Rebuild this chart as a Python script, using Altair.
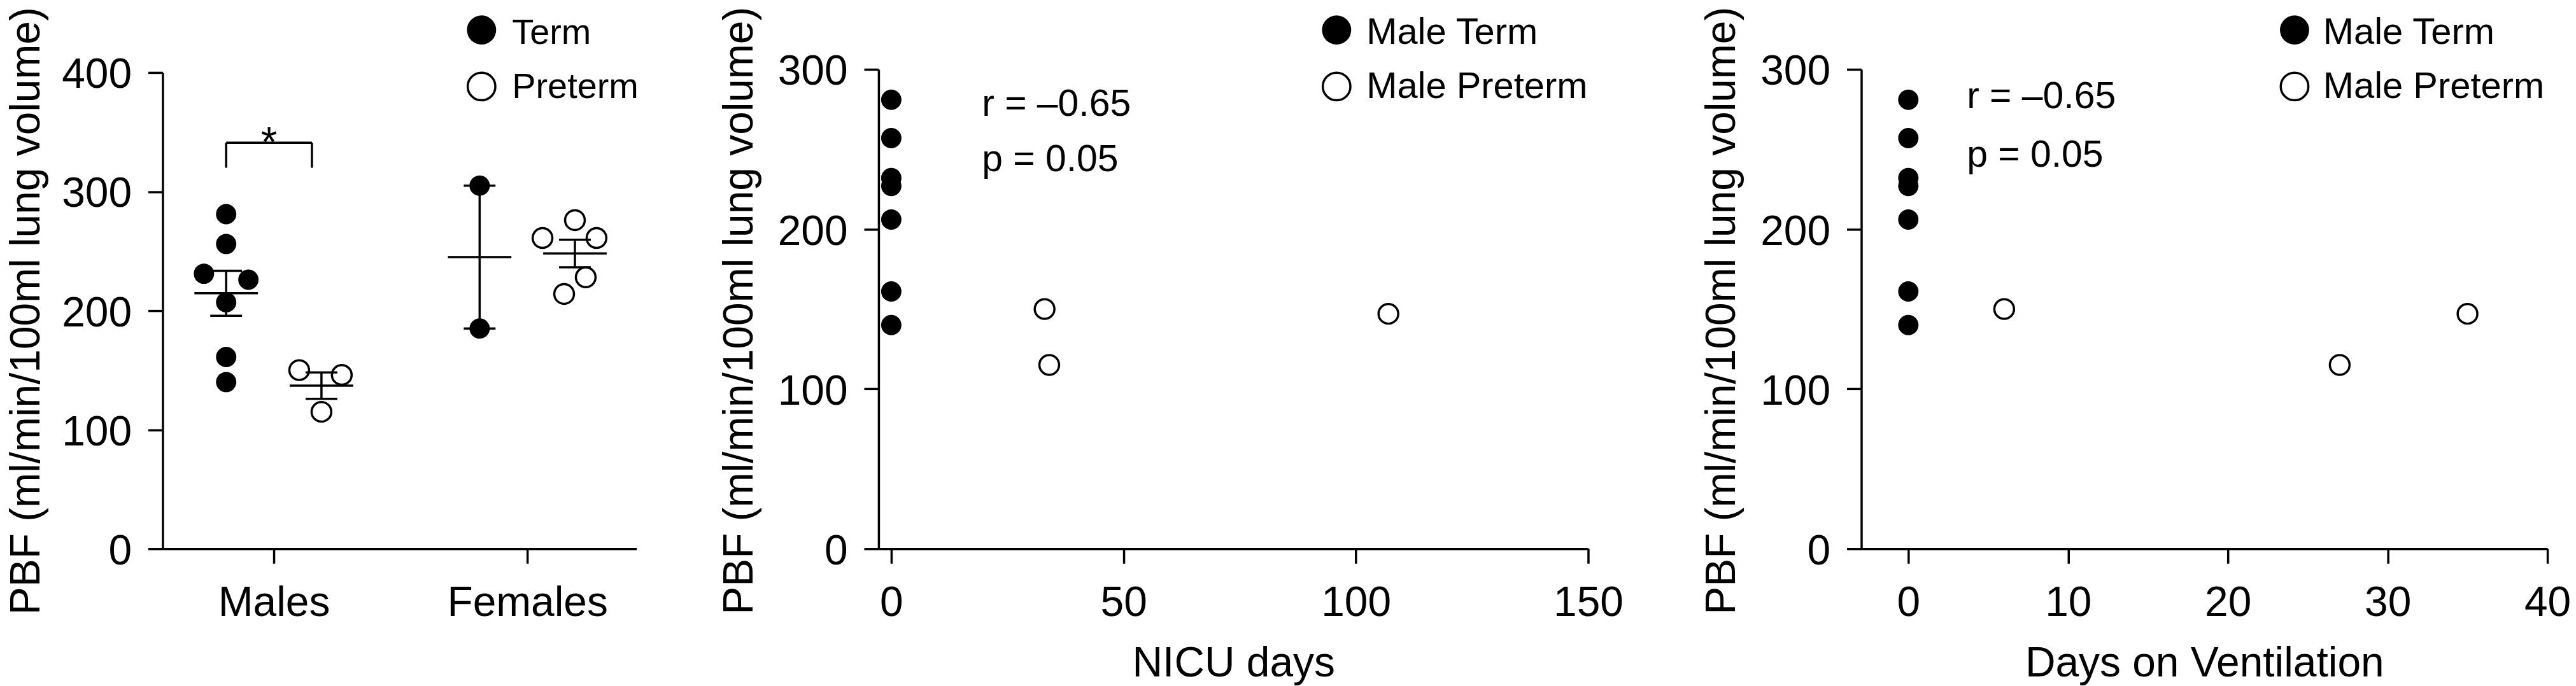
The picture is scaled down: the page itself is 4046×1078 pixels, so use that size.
import altair as alt
import numpy as np
import pandas as pd

FONT = "Liberation Sans"

# ---------------- data ----------------
group_names = ["Males", "Females"]
male_term = [281, 256, 231, 226, 207, 161, 140]
male_preterm = [150, 146, 115]
female_term = [305, 185]
female_preterm = [276, 261, 261, 228, 214]

# beeswarm spread of the dot plot (pixels)
male_term_jitter = [0, 0, -35, 35, 0, 0, 0]
male_preterm_jitter = [-35, 32, 0]
female_term_jitter = [0, 0]
female_preterm_jitter = [0, -51, 34, 17, -17]

# male infants, correlation panels
term_pbf = [281, 257, 232, 227, 206, 161, 140]
term_nicu_days = [0, 0, 0, 0, 0, 0, 0]
term_vent_days = [0, 0, 0, 0, 0, 0, 0]
preterm_pbf = [150, 115, 147]
preterm_nicu_days = [33, 34, 107]
preterm_vent_days = [6, 27, 35]

y_ticks_1 = [0, 100, 200, 300, 400]
y_ticks_23 = [0, 100, 200, 300]
nicu_ticks = [0, 50, 100, 150]
vent_ticks = [0, 10, 20, 30, 40]

corr_lines = ["r = –0.65", "p = 0.05"]
legend_1 = ["Term", "Preterm"]
legend_23 = ["Male Term", "Male Preterm"]
y_title = "PBF (ml/min/100ml lung volume)"
signif = "*"

# ---------------- layout ----------------
P1_LEFT, P2_LEFT, P3_LEFT = 254, 1381, 2928
H = 755
W1 = 746
SP = P2_LEFT - P1_LEFT - W1
W2 = P3_LEFT - P2_LEFT - SP
P2_AXIS = 1117
W3 = 1080

GROUP_PX = 399.0
MALES_PX = 175.0
OFF = 75 / GROUP_PX

LW = 3.5
# Vega symbol size = area of bounding square -> diameter = sqrt(size)
PT_FILLED = 32 ** 2
PT_OPEN = 31 ** 2
LEG_FILLED = 46 ** 2
LEG_OPEN = 43.5 ** 2


def y_axis(values, title_x, title_y):
    return alt.Axis(
        values=values, title=y_title, grid=False,
        domainColor="black", domainWidth=LW, tickColor="black", tickWidth=LW, tickSize=23,
        labelColor="black", labelFont=FONT, labelFontSize=66, labelFlush=False, labelOverlap=False,
        labelLimit=1000,
        labelAlign="right", labelBaseline="alphabetic", labelOffset=24, labelPadding=26,
        titleColor="black", titleFont=FONT, titleFontSize=66, titleFontWeight="normal",
        titleAngle=270, titleBaseline="bottom", titleAlign="center", titleX=title_x, titleY=title_y,
        titleLimit=2000,
    )


def x_axis(values, title, title_x, label_expr=None):
    kw = dict(
        values=values, grid=False,
        domainColor="black", domainWidth=LW, tickColor="black", tickWidth=LW, tickSize=23,
        labelColor="black", labelFont=FONT, labelFontSize=66, labelFlush=False, labelOverlap=False,
        labelLimit=1000,
        labelAlign="center", labelBaseline="alphabetic", labelPadding=82,
        titleColor="black", titleFont=FONT, titleFontSize=66, titleFontWeight="normal",
        titleAngle=0, titleBaseline="alphabetic", titleAlign="center", titleX=title_x, titleY=201,
        titleLimit=2000,
    )
    if label_expr:
        kw["labelExpr"] = label_expr
    if title:
        kw["title"] = title
    else:
        kw["title"] = None
    return alt.Axis(**kw)


def legend_layers(labels, cx, tx, fsize):
    one = pd.DataFrame({"k": [0]})
    f = alt.Chart(one).mark_point(shape="circle", filled=True, color="black", size=LEG_FILLED, opacity=1).encode(
        x=alt.value(cx), y=alt.value(-62))
    o = alt.Chart(one).mark_point(shape="circle", filled=False, color="black", size=LEG_OPEN,
                                  strokeWidth=LW, opacity=1).encode(x=alt.value(cx), y=alt.value(27))
    t1 = alt.Chart(pd.DataFrame({"t": [labels[0]]})).mark_text(
        font=FONT, fontSize=fsize, align="left", baseline="alphabetic", color="black").encode(
        x=alt.value(tx), y=alt.value(-40), text="t:N")
    t2 = alt.Chart(pd.DataFrame({"t": [labels[1]]})).mark_text(
        font=FONT, fontSize=fsize, align="left", baseline="alphabetic", color="black").encode(
        x=alt.value(tx), y=alt.value(45), text="t:N")
    return [f, o, t1, t2]


# ---------------- panel 1: dot plot ----------------
x0 = 1 - MALES_PX / GROUP_PX
xs1 = alt.Scale(domain=[x0, x0 + W1 / GROUP_PX], nice=False, zero=False)
ys1 = alt.Scale(domain=[0, 400], range=[H, 5], nice=False, zero=False)
xa1 = x_axis([1, 2], None, W1 / 2, "datum.value == 1 ? 'Males' : 'Females'")
ya1 = y_axis(y_ticks_1, -180, 380)

sets = [
    (male_term, male_term_jitter, 1, -OFF, "Term"),
    (male_preterm, male_preterm_jitter, 1, OFF, "Preterm"),
    (female_term, female_term_jitter, 2, -OFF, "Term"),
    (female_preterm, female_preterm_jitter, 2, OFF, "Preterm"),
]
pts, segs = [], []
for vals, jit, g, off, kind in sets:
    c = g + off
    for v, j in zip(vals, jit):
        pts.append({"x": c + j / GROUP_PX, "y": v, "kind": kind})
    a = np.array(vals, dtype=float)
    m = a.mean()
    se = a.std(ddof=1) / np.sqrt(len(a))
    half_m, half_c = 50 / GROUP_PX, 25 / GROUP_PX
    segs.append({"x": c - half_m, "x2": c + half_m, "y": m, "y2": m})
    segs.append({"x": c, "x2": c, "y": m - se, "y2": m + se})
    segs.append({"x": c - half_c, "x2": c + half_c, "y": m - se, "y2": m - se})
    segs.append({"x": c - half_c, "x2": c + half_c, "y": m + se, "y2": m + se})

# significance bracket between male term and male preterm
bl, br = 1 - OFF, 1 + 60 / GROUP_PX
segs.append({"x": bl, "x2": br, "y": 341, "y2": 341})
segs.append({"x": bl, "x2": bl, "y": 320, "y2": 341})
segs.append({"x": br, "x2": br, "y": 320, "y2": 341})

pts = pd.DataFrame(pts)
segs = pd.DataFrame(segs)

X1 = alt.X("x:Q", scale=xs1, axis=xa1)
Y1 = alt.Y("y:Q", scale=ys1, axis=ya1)

p1_term = alt.Chart(pts[pts.kind == "Term"]).mark_point(
    shape="circle", filled=True, color="black", size=PT_FILLED, opacity=1).encode(x=X1, y=Y1)
p1_pre = alt.Chart(pts[pts.kind == "Preterm"]).mark_point(
    shape="circle", filled=False, color="black", size=PT_OPEN, strokeWidth=LW, opacity=1).encode(x=X1, y=Y1)
p1_rules = alt.Chart(segs).mark_rule(color="black", strokeWidth=LW).encode(
    x=X1, y=Y1, x2="x2:Q", y2="y2:Q")
star = alt.Chart(pd.DataFrame({"x": [(bl + br) / 2], "y": [329.6], "t": [signif]})).mark_text(
    font=FONT, fontSize=66, align="center", baseline="alphabetic", color="black").encode(
    x=X1, y=Y1, text="t:N")

panel1 = alt.layer(p1_term, p1_pre, p1_rules, star, *legend_layers(legend_1, 502, 550, 56)).properties(
    width=W1, height=H)


# ---------------- panels 2 and 3: scatter ----------------
def scatter_panel(term_x, pre_x, xs, xa, width, txt_x, txt_y, leg_cx, leg_tx):
    ys = alt.Scale(domain=[0, 300], nice=False, zero=False)
    ya = y_axis(y_ticks_23, -185, 379.5)
    X = alt.X("x:Q", scale=xs, axis=xa)
    Y = alt.Y("y:Q", scale=ys, axis=ya)
    t = alt.Chart(pd.DataFrame({"x": term_x, "y": term_pbf})).mark_point(
        shape="circle", filled=True, color="black", size=PT_FILLED, opacity=1).encode(x=X, y=Y)
    p = alt.Chart(pd.DataFrame({"x": pre_x, "y": preterm_pbf})).mark_point(
        shape="circle", filled=False, color="black", size=PT_OPEN, strokeWidth=LW, opacity=1).encode(x=X, y=Y)
    ann = alt.Chart(pd.DataFrame({"x": [txt_x, txt_x], "y": txt_y, "t": corr_lines})).mark_text(
        font=FONT, fontSize=59, align="left", baseline="alphabetic", color="black").encode(
        x=X, y=Y, text="t:N")
    return alt.layer(t, p, ann, *legend_layers(legend_23, leg_cx, leg_tx, 58)).properties(width=width, height=H)


nicu_px = (2498 - 1401) / 150
xs2 = alt.Scale(domain=[-(1401 - P2_LEFT) / nicu_px, 150], range=[0, P2_AXIS], nice=False, zero=False)
xa2 = x_axis(nicu_ticks, "NICU days", P2_AXIS / 2)
panel2 = scatter_panel(term_nicu_days, preterm_nicu_days, xs2, xa2, W2, 19.5, [271, 236.4], 721, 768)

vent_px = (4008 - 3002) / 40
xs3 = alt.Scale(domain=[-(3002 - P3_LEFT) / vent_px, 40], nice=False, zero=False)
xa3 = x_axis(vent_ticks, "Days on Ventilation", W3 / 2)
panel3 = scatter_panel(term_vent_days, preterm_vent_days, xs3, xa3, W3, 3.66, [275.7, 239.2], 682, 727)

chart = alt.hconcat(panel1, panel2, panel3, spacing=SP, bounds="flush").properties(
    padding=0, background="white").configure_view(stroke=None)

chart.save("out.html", embed_options={"renderer": "svg", "actions": False})
